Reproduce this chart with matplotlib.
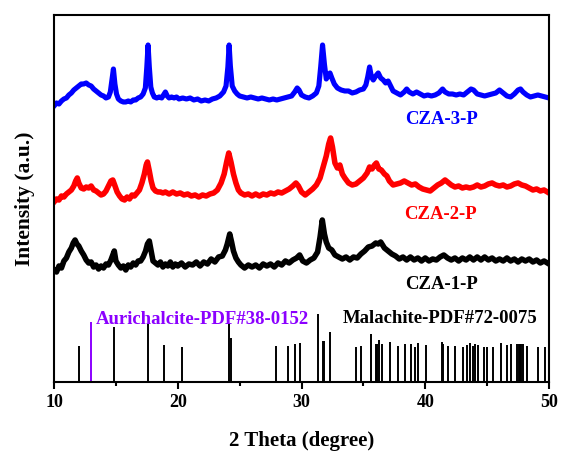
import matplotlib
matplotlib.use("Agg")
import matplotlib.pyplot as plt

# heights are in plot units (baseline = axis)
two_theta_3 = [10.0, 10.2, 10.4, 10.6, 10.8, 11.0, 11.2, 11.4, 11.6, 11.8, 12.0, 12.2, 12.4, 12.6, 12.8,
               13.0, 13.2, 13.4, 13.6, 13.8, 14.0, 14.2, 14.4, 14.55, 14.68, 14.8, 14.92, 15.05, 15.2, 15.4,
               15.6, 15.8, 16.0, 16.2, 16.4, 16.6, 16.8, 17.0, 17.2, 17.38, 17.5, 17.6, 17.7, 17.82, 17.95,
               18.1, 18.3, 18.5, 18.7, 18.85, 19.0, 19.15, 19.3, 19.5, 19.7, 19.9, 20.1, 20.4, 20.7, 21.0,
               21.3, 21.6, 21.9, 22.2, 22.5, 22.8, 23.1, 23.4, 23.7, 23.9, 24.05, 24.15, 24.25, 24.4, 24.6,
               24.8, 25.0, 25.3, 25.6, 25.9, 26.2, 26.5, 26.8, 27.1, 27.4, 27.7, 28.0, 28.3, 28.6, 28.9,
               29.2, 29.45, 29.65, 29.8, 30.0, 30.3, 30.6, 30.9, 31.2, 31.4, 31.55, 31.7, 31.85, 32.0, 32.15,
               32.3, 32.45, 32.65, 32.9, 33.2, 33.5, 33.8, 34.1, 34.4, 34.7, 35.0, 35.2, 35.35, 35.5, 35.65,
               35.8, 36.0, 36.2, 36.4, 36.6, 36.8, 37.0, 37.2, 37.4, 37.7, 38.0, 38.3, 38.5, 38.7, 39.0,
               39.3, 39.6, 39.9, 40.2, 40.5, 40.8, 41.1, 41.4, 41.6, 41.9, 42.2, 42.5, 42.8, 43.1, 43.4,
               43.7, 43.9, 44.2, 44.5, 44.8, 45.1, 45.4, 45.7, 46.0, 46.3, 46.6, 46.9, 47.2, 47.5, 47.7,
               47.9, 48.2, 48.5, 48.8, 49.1, 49.4, 49.7, 50.0]
cza3 = [276, 279, 278, 281, 283, 284, 287, 289, 292, 294, 296, 298, 298, 299, 297,
        296, 293, 291, 289, 287, 286, 284, 285, 290, 302, 313, 298, 288, 283, 281,
        280, 280, 281, 280, 282, 282, 284, 285, 288, 294, 315, 337, 315, 295, 289,
        285, 284, 285, 284, 287, 290, 286, 284, 285, 284, 285, 283, 284, 283, 284,
        282, 283, 281, 282, 281, 283, 284, 286, 290, 296, 315, 337, 316, 296, 291,
        288, 286, 285, 284, 285, 284, 283, 284, 283, 282, 283, 282, 283, 284, 285,
        286, 290, 294, 292, 287, 285, 284, 286, 289, 296, 315, 337, 318, 303, 306,
        309, 304, 298, 294, 292, 291, 291, 289, 290, 292, 293, 297, 305, 315, 305,
        302, 306, 309, 304, 302, 299, 301, 296, 291, 289, 287, 290, 293, 290, 288,
        290, 288, 286, 287, 286, 287, 289, 293, 290, 288, 288, 287, 288, 287, 290,
        293, 292, 288, 287, 286, 287, 288, 289, 292, 289, 286, 285, 288, 292, 293,
        290, 287, 285, 286, 287, 286, 285, 284]

two_theta_2 = [10.0, 10.2, 10.4, 10.6, 10.8, 11.0, 11.2, 11.4, 11.6, 11.75, 11.88, 12.0, 12.2, 12.4, 12.6,
               12.8, 13.0, 13.2, 13.4, 13.6, 13.8, 14.0, 14.2, 14.4, 14.6, 14.75, 14.9, 15.1, 15.3, 15.5,
               15.7, 15.9, 16.1, 16.3, 16.5, 16.7, 16.9, 17.1, 17.3, 17.45, 17.55, 17.7, 17.85, 18.0, 18.2,
               18.4, 18.6, 18.8, 19.0, 19.3, 19.6, 19.9, 20.2, 20.5, 20.8, 21.1, 21.4, 21.7, 22.0, 22.3,
               22.6, 22.9, 23.2, 23.5, 23.75, 23.95, 24.12, 24.3, 24.5, 24.7, 24.9, 25.1, 25.4, 25.7, 26.0,
               26.3, 26.6, 26.9, 27.2, 27.5, 27.8, 28.1, 28.4, 28.7, 29.0, 29.3, 29.55, 29.75, 30.0, 30.3,
               30.6, 30.9, 31.2, 31.5, 31.75, 32.0, 32.2, 32.35, 32.5, 32.7, 32.9, 33.1, 33.3, 33.5, 33.8,
               34.1, 34.4, 34.7, 35.0, 35.3, 35.5, 35.7, 35.9, 36.05, 36.25, 36.45, 36.7, 36.9, 37.1, 37.4,
               37.7, 38.0, 38.3, 38.6, 38.9, 39.2, 39.5, 39.8, 40.1, 40.4, 40.7, 41.0, 41.3, 41.6, 41.8,
               42.1, 42.4, 42.7, 43.0, 43.3, 43.6, 43.9, 44.2, 44.5, 44.8, 45.1, 45.4, 45.7, 46.0, 46.3,
               46.6, 46.9, 47.2, 47.5, 47.8, 48.1, 48.4, 48.7, 49.0, 49.3, 49.6, 50.0]
cza2 = [180, 183, 182, 186, 185, 188, 190, 192, 196, 201, 204, 199, 194, 193, 195,
        194, 196, 192, 191, 189, 187, 188, 191, 196, 201, 202, 197, 190, 186, 183,
        182, 185, 183, 187, 186, 189, 192, 199, 208, 217, 220, 211, 201, 194, 191,
        190, 190, 189, 190, 188, 190, 188, 189, 187, 188, 186, 187, 185, 187, 186,
        188, 189, 192, 199, 208, 220, 229, 220, 208, 199, 192, 189, 187, 188, 186,
        188, 186, 188, 187, 189, 188, 190, 189, 191, 193, 196, 199, 196, 190, 187,
        190, 193, 197, 204, 215, 226, 238, 244, 235, 219, 214, 217, 208, 204, 199,
        197, 198, 201, 204, 209, 215, 213, 217, 219, 213, 212, 208, 206, 201, 197,
        198, 199, 201, 199, 197, 198, 195, 193, 192, 191, 194, 197, 199, 202, 200,
        197, 195, 196, 194, 195, 194, 195, 197, 195, 196, 198, 199, 197, 196, 197,
        195, 196, 198, 199, 197, 196, 194, 192, 193, 191, 192, 189]

two_theta_1 = [10.0, 10.2, 10.4, 10.6, 10.8, 11.0, 11.2, 11.4, 11.55, 11.7, 11.85, 12.0, 12.2, 12.4, 12.6,
               12.8, 13.0, 13.2, 13.4, 13.6, 13.8, 14.0, 14.2, 14.4, 14.6, 14.75, 14.87, 15.0, 15.2, 15.4,
               15.6, 15.8, 16.0, 16.2, 16.4, 16.6, 16.8, 17.0, 17.2, 17.4, 17.55, 17.7, 17.85, 18.0, 18.2,
               18.4, 18.6, 18.8, 19.0, 19.2, 19.4, 19.6, 19.8, 20.0, 20.3, 20.6, 20.9, 21.2, 21.5, 21.8,
               22.1, 22.4, 22.7, 23.0, 23.3, 23.6, 23.85, 24.0, 24.2, 24.35, 24.5, 24.7, 24.9, 25.1, 25.4,
               25.7, 26.0, 26.3, 26.6, 26.9, 27.2, 27.5, 27.8, 28.1, 28.4, 28.7, 29.0, 29.3, 29.6, 29.85,
               30.1, 30.4, 30.7, 31.0, 31.3, 31.5, 31.68, 31.85, 32.0, 32.2, 32.45, 32.7, 33.0, 33.3, 33.6,
               33.9, 34.2, 34.5, 34.8, 35.1, 35.4, 35.7, 36.0, 36.2, 36.4, 36.7, 37.0, 37.3, 37.6, 37.9,
               38.2, 38.5, 38.8, 39.1, 39.4, 39.7, 40.0, 40.3, 40.6, 40.9, 41.2, 41.5, 41.8, 42.1, 42.4,
               42.7, 43.0, 43.3, 43.6, 43.9, 44.2, 44.5, 44.8, 45.1, 45.4, 45.7, 46.0, 46.3, 46.6, 46.9,
               47.2, 47.5, 47.8, 48.1, 48.4, 48.7, 49.0, 49.3, 49.6, 50.0]
cza1 = [112, 110, 116, 114, 121, 124, 130, 134, 139, 142, 138, 136, 131, 127, 122,
        119, 120, 115, 117, 113, 116, 114, 118, 117, 122, 127, 131, 121, 117, 114,
        116, 112, 117, 115, 119, 117, 121, 121, 125, 131, 138, 141, 131, 121, 119,
        117, 120, 115, 118, 116, 120, 115, 118, 116, 119, 115, 118, 117, 120, 116,
        120, 118, 123, 120, 125, 126, 132, 138, 148, 140, 131, 124, 120, 117, 114,
        117, 115, 117, 114, 118, 116, 118, 115, 119, 117, 121, 119, 122, 124, 127,
        121, 119, 122, 124, 130, 145, 162, 148, 140, 134, 132, 127, 125, 123, 125,
        122, 125, 124, 128, 131, 135, 136, 139, 138, 140, 134, 131, 128, 126, 123,
        125, 122, 125, 122, 124, 121, 124, 121, 123, 122, 125, 127, 124, 122, 124,
        121, 124, 122, 125, 122, 125, 122, 125, 122, 124, 121, 123, 121, 124, 121,
        123, 120, 123, 121, 123, 120, 122, 119, 121, 118]

# reference cards
aur_pos = [12.95]
aur_int = [60]
mal_pos = [12.0, 14.85, 17.57, 18.9, 20.34, 24.14, 24.28, 27.91, 28.88, 29.5, 29.88, 31.33, 31.71, 31.85,
           32.3, 34.38, 34.81, 35.62, 36.0, 36.13, 36.29, 36.5, 37.15, 37.8, 38.36, 38.82, 39.15, 39.44,
           40.04, 41.33, 41.46, 41.81, 42.43, 43.03, 43.4, 43.62, 43.84, 44.06, 44.24, 44.77, 44.97, 45.5,
           46.1, 46.58, 46.9, 47.44, 47.55, 47.66, 47.77, 47.92, 48.25, 49.14, 49.68]
mal_int = [36, 55, 58, 37, 35, 59, 44, 36, 36, 38, 39, 68, 41, 41,
           50, 35, 36, 48, 38, 38, 42, 38, 40, 36, 38, 38, 35, 39,
           37, 40, 38, 36, 36, 35, 37, 39, 36, 38, 37, 35, 35, 35,
           39, 37, 38, 38, 38, 38, 38, 38, 36, 35, 35]

plt.rcParams['font.family'] = 'Liberation Serif'
plt.rcParams['font.weight'] = 'bold'

fig = plt.figure(figsize=(5.61, 4.54), dpi=100)
ax = fig.add_axes([0.0963, 0.1586, 0.8823, 0.8084])

ax.plot(two_theta_1, cza1, color='black', lw=4.0)
ax.plot(two_theta_2, cza2, color='#ff0000', lw=4.0)
ax.plot(two_theta_3, cza3, color='#0000ff', lw=3.7)

ax.vlines(mal_pos, 0, mal_int, color='black', lw=1.4)
ax.vlines(aur_pos, 0, aur_int, color='#8b00ff', lw=1.4)

ax.text(41.35, 262, 'CZA-3-P', color='#0000ff', fontsize=13.5, ha='center', va='center')
ax.text(41.2, 167, 'CZA-2-P', color='#ff0000', fontsize=13.5, ha='center', va='center')
ax.text(41.35, 97, 'CZA-1-P', color='black', fontsize=13.5, ha='center', va='center')
ax.text(13.39, 58, 'Aurichalcite-PDF#38-0152', color='#8b00ff', fontsize=13.5, va='baseline')
ax.text(33.35, 59, 'Malachite-PDF#72-0075', color='black', fontsize=13.5, va='baseline')

ax.set_xlim(10, 50)
ax.set_ylim(0, 367)
ax.set_xticks([10, 20, 30, 40, 50])
ax.set_xticks([15, 25, 35, 45], minor=True)
ax.set_yticks([])
ax.tick_params(axis='x', which='major', direction='out', length=5, width=1.5, labelsize=13, pad=4)
ax.tick_params(axis='x', which='minor', direction='out', length=3, width=1.5)
ax.tick_params(top=False, right=False)
for s in ax.spines.values():
    s.set_linewidth(1.5)

ax.set_xlabel('2 Theta (degree)', fontsize=15, fontweight='bold', labelpad=14)
ax.set_ylabel('Intensity (a.u.)', fontsize=15.5, fontweight='bold', labelpad=14)

plt.savefig('out.png', dpi=100)
